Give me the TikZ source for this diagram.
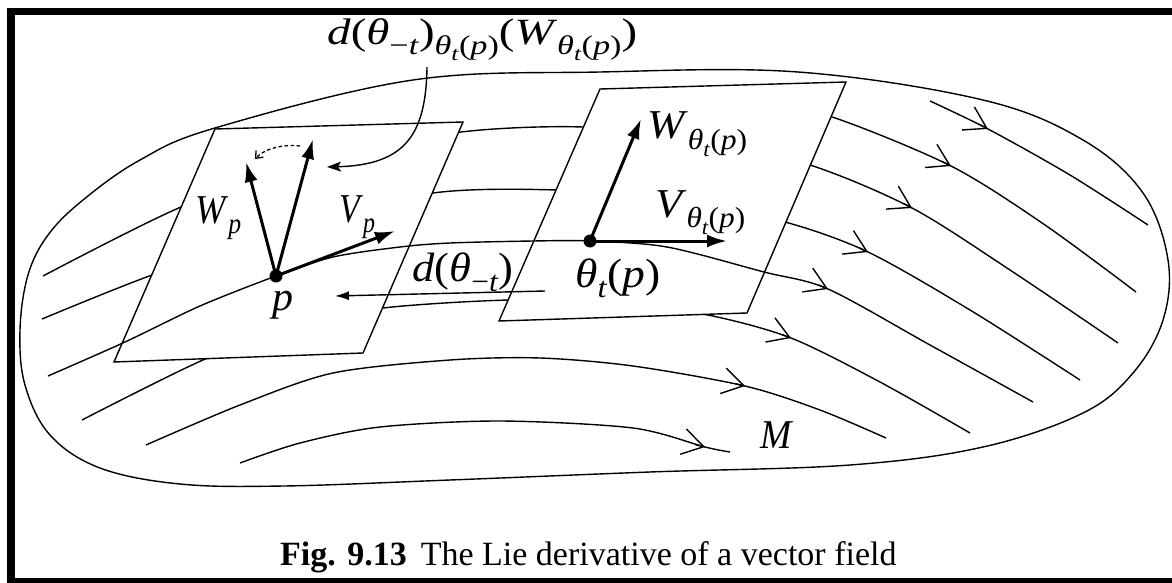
\documentclass[tikz,border=0pt]{standalone}
\usepackage{graphicx}
\usepackage{fontspec}
\setmainfont{Liberation Serif}
\usetikzlibrary{arrows.meta}
\newcommand\mi[1]{\textit{#1}}
\newcommand\sub[2]{\raisebox{-0.25em}{\fontsize{#1}{#1}\selectfont #2}}
\newcommand\fitw[2]{\resizebox{#1}{\height}{#2}}
\begin{document}
\begin{tikzpicture}[x=1pt,y=-1pt,
  ln/.style={line width=1.4pt, line join=round},
  plane/.style={line width=1.4pt, fill=white, line join=miter},
  vec/.style={line width=3pt, -{Latex[length=20pt,width=13pt]}},
  barb/.style={line width=1.4pt, -{Straight Barb[length=21pt,width=26pt]}},
  lbl/.style={font=\fontsize{41}{46}\selectfont, inner sep=0pt},
  toptext/.style={font=\fontsize{37}{42}\selectfont, inner sep=0pt},
  captext/.style={font=\fontsize{34}{40}\selectfont, inner sep=0pt}]
\useasboundingbox (0,0) rectangle (1172,583);
% frame
\fill (7,8) rectangle (1172,15);
\fill (7,8) rectangle (15,583);
\fill (7,578) rectangle (1172,583);

% manifold outline
\draw[ln] plot[smooth cycle, tension=0.6] coordinates {
  (215,128) (413,80) (600,72) (798,72) (983,100) (1083,140) (1143,193)
  (1168,260) (1163,320) (1133,373) (1083,413) (983,447) (850,465) (650,472)
  (450,480) (284,486) (180,484) (100,468) (50,435) (25,385) (20,330)
  (28,275) (48,235) (83,200) (140,160)};

% flow lines (under the planes)
\draw[ln] plot[smooth] coordinates {(930,101) (988,129) (1070,175) (1148,225)};
\draw[ln] plot[smooth] coordinates {(770,108) (832,117) (951,166) (1045,225) (1136,292)};
\draw[ln] plot[smooth] coordinates {(43,276) (181,207) (320,158) (461,132) (583,127) (700,140) (810,165) (912,208) (1010,270) (1118,343)};
\draw[ln] plot[smooth] coordinates {(42,319) (152,275) (300,225) (433,193) (557,190) (680,200) (785,222) (868,252) (970,310) (1080,380)};
\draw[ln] plot[smooth] coordinates {(82,420) (203,360) (300,325) (383,308) (510,300) (620,303) (708,315) (791,338) (880,382) (970,433)};
\draw[ln] plot[smooth] coordinates {(146,445) (240,405) (333,373) (450,360) (540,358) (633,366) (745,386) (820,410) (886,438)};
\draw[ln] plot[smooth] coordinates {(240,463) (300,443) (380,427) (500,421) (633,428) (705,447) (730,452)};

% flow arrowheads
\draw[barb] (979.2,124.3) -- (988,129);
\draw[barb] (942.1,161.5) -- (951,166);
\draw[barb] (903.1,203.3) -- (912,208);
\draw[barb] (859,247.7) -- (868,252);
\draw[barb] (781.7,334.4) -- (791,338);
\draw[barb] (735.3,383.7) -- (745,386);
\draw[barb] (695.3,444.6) -- (705,447);

% tangent planes
\draw[plane] (215,129) -- (463,122) -- (363,353) -- (114,362) -- cycle;
\draw[plane] (600,89) -- (846,82) -- (747,313) -- (499,321) -- cycle;

% integral curve through p and theta_t(p)
\coordinate (p) at (276,276);
\coordinate (q) at (590,241);
\draw[ln] plot[smooth] coordinates {(48,376) (125,342) (200,306) (276,276) (333,257) (400,247) (450,243) (533,241) (590,241) (667,247) (764,272) (828,289) (930,345) (1033,402)};
\draw[barb] (818.9,285) -- (828,289);

% vectors
\draw[vec] (p) -- (246,162);
\draw[vec] (p) -- (313,139);
\draw[vec] (p) -- (395,231);
\draw[vec] (q) -- (641,119);
\draw[vec] (q) -- (727,241);
\fill (p) circle[radius=6.5pt];
\fill (q) circle[radius=6.5pt];

% dashed rotation arrow
\draw[line width=1.3pt, dash pattern=on 3.5pt off 2.5pt, -{Straight Barb[length=6pt,width=10pt]}]
  (300,146) .. controls (285,144) and (265,148) .. (255,159);

% d(theta_{-t}) map arrow
\coordinate (ms) at (545,291);
\coordinate (me) at (335,296);
\draw[line width=1.4pt, -{Latex[length=14pt,width=9pt]}] (ms) -- (me);

% labels
\node[toptext, anchor=base west] (toplbl) at (327,45)
  {\fitw{310pt}{\mi{d}(\mi{θ}\sub{27}{−\mi{t}})\sub{27}{\mi{θ}\sub{20}{\mi{t}}(\mi{p})}(\mi{W}\sub{27}{\mi{θ}\sub{20}{\mi{t}}(\mi{p})})}};
\coordinate (cs) at (427,67);
\coordinate (ce) at (327,167);
\draw[line width=1.4pt, -{Stealth[length=14pt,width=10pt,inset=3pt]}]
  (cs) .. controls (426,135) and (405,165) .. (ce);

\node[lbl, anchor=base west] (wp) at (195,223) {\fitw{46pt}{\mi{W}\sub{29}{\mi{p}}}};
\node[lbl, anchor=base west] (vp) at (339,222) {\fitw{36pt}{\mi{V}\sub{29}{\mi{p}}}};
\node[lbl, anchor=base west] (plbl) at (272,310) {\fitw{21pt}{\mi{p}}};
\node[lbl, anchor=base west] (qlbl) at (575,287) {\fitw{85pt}{\mi{θ}\sub{29}{\mi{t}}(\mi{p})}};
\node[lbl, anchor=base west] (dlbl) at (412,281) {\fitw{101pt}{\mi{d}(\mi{θ}\sub{29}{−\mi{t}})}};
\node[lbl, anchor=base west] (wq) at (647,139) {\fitw{100pt}{\mi{W}\sub{29}{\mi{θ}\sub{21}{\mi{t}}(\mi{p})}}};
\node[lbl, anchor=base west] (vq) at (655,217) {\fitw{90pt}{\mi{V}\sub{29}{\mi{θ}\sub{21}{\mi{t}}(\mi{p})}}};
\node[lbl, anchor=base west] (mlbl) at (760,448) {\fitw{33pt}{\mi{M}}};
\node[captext, anchor=base west] (caption) at (280,565)
  {\textbf{Fig. 9.13}\hspace{14pt}The Lie derivative of a vector field};
\end{tikzpicture}
\end{document}
